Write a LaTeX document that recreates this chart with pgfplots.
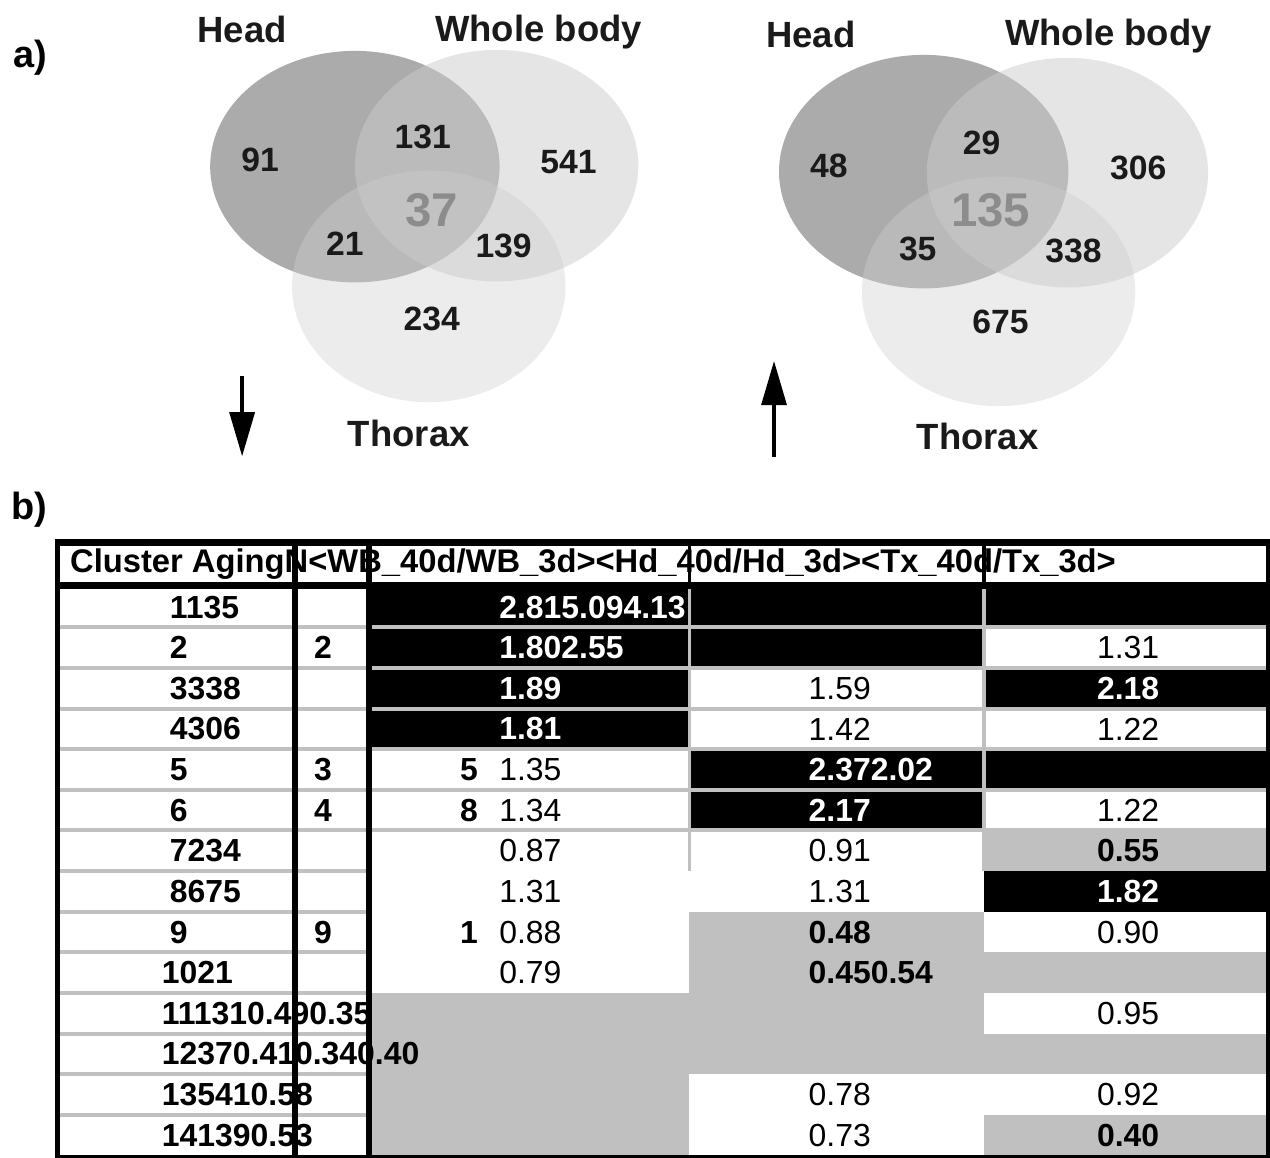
\documentclass[border=0pt]{standalone}
\usepackage{pgfplots}
\pgfplotsset{compat=1.18}
\usepackage{fontspec}
\setmainfont{Liberation Sans}
\definecolor{cellgray}{HTML}{C0C0C0}
\definecolor{venntxt}{HTML}{1A1A1A}
\definecolor{venncore}{HTML}{8C8C8C}
\newcommand\fT{\fontsize{9.1}{10}\selectfont}
\newcommand\fH{\fontsize{9.33}{10}\selectfont\bfseries}
\newcommand\fV{\fontsize{9.6}{10}\selectfont\bfseries}
\newcommand\fL{\fontsize{10.4}{11}\selectfont\bfseries}
\newcommand\fC{\fontsize{13.5}{14}\selectfont\bfseries}
\pgfplotsset{
  txt/.style={draw=none, mark=none, nodes near coords, point meta=explicit symbolic,
    every node near coord/.append style={inner sep=0pt, #1}},
}
\begin{document}
\begin{tikzpicture}
\begin{axis}[width=12.7cm, height=11.6cm, scale only axis,
  xmin=0, xmax=1270, ymin=-1160, ymax=0, hide axis, clip=false]
\path (axis cs:0,0) rectangle (axis cs:1270,-1160);
% ---------- Venn diagrams ----------
% left (down)
\fill[black!66, fill opacity=0.5] (axis cs:353,-167) ellipse [x radius=145, y radius=116];
\fill[black!19, fill opacity=0.4] (axis cs:427,-287) ellipse [x radius=137, y radius=116];
\fill[black!20, fill opacity=0.5] (axis cs:495,-166) ellipse [x radius=142, y radius=116];
% right (up)
\fill[black!66, fill opacity=0.5] (axis cs:923,-172) ellipse [x radius=145, y radius=117];
\fill[black!19, fill opacity=0.4] (axis cs:998,-292) ellipse [x radius=137, y radius=115];
\fill[black!20, fill opacity=0.5] (axis cs:1067,-173) ellipse [x radius=141, y radius=115];
% region counts
\addplot[txt={anchor=center, font=\fV, text=venntxt}] coordinates {
 (258,-160)[91] (421,-137)[131] (567,-162)[541] (343,-244)[21] (502,-246)[139] (430,-320)[234]
 (828,-166)[48] (981,-143)[29] (1138,-168)[306] (917,-249)[35] (1073,-251)[338] (1000,-323)[675]
};
\addplot[txt={anchor=center, font=\fC, text=venncore}] coordinates {
 (430,-211)[37] (990,-211)[135]
};
% set labels
\node[font=\fL, text=venntxt] at (axis cs:240,-30) {Head};
\node[font=\fL, text=venntxt] at (axis cs:537,-32) {Whole body};
\node[font=\fL, text=venntxt] at (axis cs:407,-434) {Thorax};
\node[font=\fL, text=venntxt] at (axis cs:810,-35) {Head};
\node[font=\fL, text=venntxt] at (axis cs:1108,-36) {Whole body};
\node[font=\fL, text=venntxt] at (axis cs:977,-437) {Thorax};
% arrows
\draw[line width=1.2pt] (axis cs:240,-377) -- (axis cs:240,-420);
\fill (axis cs:227,-413) -- (axis cs:253,-413) -- (axis cs:240,-457) -- cycle;
\draw[line width=1.2pt] (axis cs:773,-458) -- (axis cs:773,-400);
\fill (axis cs:760,-406) -- (axis cs:786,-406) -- (axis cs:773,-362) -- cycle;
% panel letters
\node[font=\fontsize{10.8}{11}\selectfont\bfseries] at (axis cs:28,-58) {a)};
\node[font=\fontsize{10.8}{11}\selectfont\bfseries] at (axis cs:27,-511) {b)};
% ---------- table ----------
% row 1
\fill[black] (axis cs:370,-588) rectangle (axis cs:1266,-628.7);
% row 2
\fill[black] (axis cs:370,-628.7) rectangle (axis cs:983,-669.4);
% row 3
\fill[black] (axis cs:370,-669.4) rectangle (axis cs:688,-710.1);
\fill[black] (axis cs:983,-669.4) rectangle (axis cs:1266,-710.1);
% row 4
\fill[black] (axis cs:370,-710.1) rectangle (axis cs:688,-750.8);
% row 5
\fill[black] (axis cs:688,-750.8) rectangle (axis cs:1266,-791.5);
% row 6
\fill[black] (axis cs:688,-791.5) rectangle (axis cs:983,-832.2);
% row 7
\fill[cellgray] (axis cs:983,-832.2) rectangle (axis cs:1266,-872.9);
% row 8
\fill[black] (axis cs:983,-872.9) rectangle (axis cs:1266,-913.6);
% row 9
\fill[cellgray] (axis cs:688,-913.6) rectangle (axis cs:983,-954.3);
% row 10
\fill[cellgray] (axis cs:688,-954.3) rectangle (axis cs:1266,-995);
% row 11
\fill[cellgray] (axis cs:370,-995) rectangle (axis cs:983,-1035.7);
% row 12
\fill[cellgray] (axis cs:370,-1035.7) rectangle (axis cs:1266,-1076.4);
% row 13
\fill[cellgray] (axis cs:370,-1076.4) rectangle (axis cs:688,-1117.1);
% row 14
\fill[cellgray] (axis cs:370,-1117.1) rectangle (axis cs:688,-1158);
\fill[cellgray] (axis cs:983,-1117.1) rectangle (axis cs:1266,-1158);
% gray grid lines, columns 1-2
\fill[cellgray] (axis cs:57,-626.7) rectangle (axis cs:364,-630.7);
\fill[cellgray] (axis cs:57,-667.4) rectangle (axis cs:364,-671.4);
\fill[cellgray] (axis cs:57,-708.1) rectangle (axis cs:364,-712.1);
\fill[cellgray] (axis cs:57,-748.8) rectangle (axis cs:364,-752.8);
\fill[cellgray] (axis cs:57,-789.5) rectangle (axis cs:364,-793.5);
\fill[cellgray] (axis cs:57,-830.2) rectangle (axis cs:364,-834.2);
\fill[cellgray] (axis cs:57,-870.9) rectangle (axis cs:364,-874.9);
\fill[cellgray] (axis cs:57,-911.6) rectangle (axis cs:364,-915.6);
\fill[cellgray] (axis cs:57,-952.3) rectangle (axis cs:364,-956.3);
\fill[cellgray] (axis cs:57,-993) rectangle (axis cs:364,-997);
\fill[cellgray] (axis cs:57,-1033.7) rectangle (axis cs:364,-1037.7);
\fill[cellgray] (axis cs:57,-1074.4) rectangle (axis cs:364,-1078.4);
\fill[cellgray] (axis cs:57,-1115.1) rectangle (axis cs:364,-1119.1);
% gray grid lines, columns 3-5 (rows 1-7)
\fill[cellgray] (axis cs:370,-626.7) rectangle (axis cs:1266,-630.7);
\fill[cellgray] (axis cs:370,-667.4) rectangle (axis cs:1266,-671.4);
\fill[cellgray] (axis cs:370,-708.1) rectangle (axis cs:1266,-712.1);
\fill[cellgray] (axis cs:370,-748.8) rectangle (axis cs:1266,-752.8);
\fill[cellgray] (axis cs:370,-789.5) rectangle (axis cs:1266,-793.5);
\fill[cellgray] (axis cs:370,-830.2) rectangle (axis cs:1266,-834.2);
% ---------- table text ----------
\node[anchor=west, inner sep=0pt, font=\fH] at (axis cs:67,-565)
  {Cluster AgingN<WB\_40d/WB\_3d><Hd\_40d/Hd\_3d><Tx\_40d/Tx\_3d>};
% cluster column (bold)
\addplot[txt={anchor=west, font=\fT\bfseries}] coordinates {
 (167,-608.4)[1135] (167,-649.1)[2] (167,-689.8)[3338] (167,-730.5)[4306]
 (167,-771.2)[5] (167,-811.9)[6] (167,-852.6)[7234] (167,-893.3)[8675]
 (167,-934.0)[9] (159,-974.7)[1021] (159,-1015.4)[111310.490.35]
 (159,-1056.1)[12370.410.340.40] (159,-1096.8)[135410.58] (159,-1137.5)[141390.53]
};
% N column (bold, centred)
\addplot[txt={anchor=center, font=\fT\bfseries}] coordinates {
 (321,-649.1)[2] (321,-771.2)[3] (321,-811.9)[4] (321,-934.0)[9]
};
\addplot[txt={anchor=east, font=\fT\bfseries}] coordinates {
 (477,-771.2)[5] (477,-811.9)[8] (477,-934.0)[1]
};
% regular black values
\addplot[txt={anchor=west, font=\fT}] coordinates {
 (497,-771.2)[1.35] (497,-811.9)[1.34] (497,-852.6)[0.87] (497,-893.3)[1.31]
 (497,-934.0)[0.88] (497,-974.7)[0.79]
 (807,-689.8)[1.59] (807,-730.5)[1.42] (807,-852.6)[0.91] (807,-893.3)[1.31]
 (807,-1096.8)[0.78] (807,-1137.5)[0.73]
 (1096,-649.1)[1.31] (1096,-730.5)[1.22] (1096,-811.9)[1.22] (1096,-934.0)[0.90]
 (1096,-1015.4)[0.95] (1096,-1096.8)[0.92]
};
% bold black values
\addplot[txt={anchor=west, font=\fT\bfseries}] coordinates {
 (807,-934.0)[0.48] (807,-974.7)[0.450.54] (1096,-852.6)[0.55] (1096,-1137.5)[0.40]
};
% bold white values
\addplot[txt={anchor=west, font=\fT\bfseries, text=white}] coordinates {
 (497,-608.4)[2.815.094.13] (497,-649.1)[1.802.55] (497,-689.8)[1.89] (497,-730.5)[1.81]
 (807,-771.2)[2.372.02] (807,-811.9)[2.17]
 (1096,-689.8)[2.18] (1096,-893.3)[1.82]
};
% vertical gray separators (rows 1-7)
\fill[cellgray] (axis cs:686.5,-588) rectangle (axis cs:690,-872.9);
\fill[cellgray] (axis cs:981.5,-588) rectangle (axis cs:985,-872.9);
% black frame lines
\fill[black] (axis cs:52,-540) rectangle (axis cs:1270,-547);
\fill[black] (axis cs:52,-583) rectangle (axis cs:1270,-590);
\fill[black] (axis cs:52,-1157) rectangle (axis cs:1270,-1160);
\fill[black] (axis cs:52,-540) rectangle (axis cs:57,-1160);
\fill[black] (axis cs:1266,-540) rectangle (axis cs:1270,-1160);
\fill[black] (axis cs:290,-540) rectangle (axis cs:296,-1160);
\fill[black] (axis cs:364,-540) rectangle (axis cs:370,-1160);
\fill[black] (axis cs:686.5,-547) rectangle (axis cs:690,-583);
\fill[black] (axis cs:981.5,-547) rectangle (axis cs:985,-583);
\end{axis}
\end{tikzpicture}
\end{document}
